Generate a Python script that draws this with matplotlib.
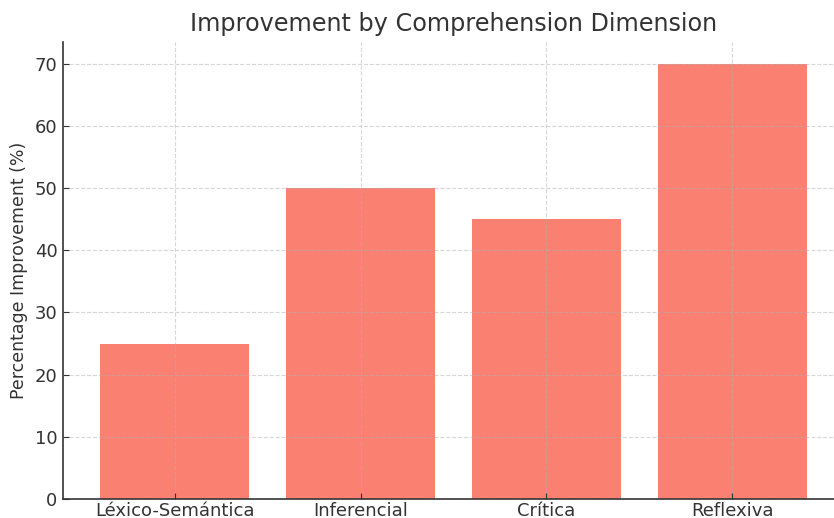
import matplotlib.pyplot as plt

categories = ['Léxico-Semántica', 'Inferencial', 'Crítica', 'Reflexiva']
improvement = [25, 50, 45, 70]

fig = plt.figure(figsize=(8.34, 5.18), dpi=100)
ax = fig.add_axes([63 / 834, 19 / 518, 781 / 834, 457 / 518])

ax.bar(categories, improvement, color='salmon', width=0.8, zorder=2)
ax.set_xlim(-0.6, 3.6)
ax.set_ylim(0, 73.5)

ax.grid(True, linestyle='--', color='#b0b0b0', alpha=0.5, linewidth=0.8, zorder=3)
ax.set_axisbelow(False)

for side in ['top', 'right']:
    ax.spines[side].set_visible(False)
for side in ['left', 'bottom']:
    ax.spines[side].set_color('#333333')
    ax.spines[side].set_linewidth(1.2)

ax.tick_params(labelsize=13, colors='#333333', direction='in', length=4, pad=4)
ax.tick_params(axis='x', pad=2)
ax.set_ylabel('Percentage Improvement (%)', fontsize=12.5, color='#333333', labelpad=5)
ax.set_title('Improvement by Comprehension Dimension', fontsize=17.2, color='#333333', pad=8)

fig.savefig('out.png', dpi=100)
